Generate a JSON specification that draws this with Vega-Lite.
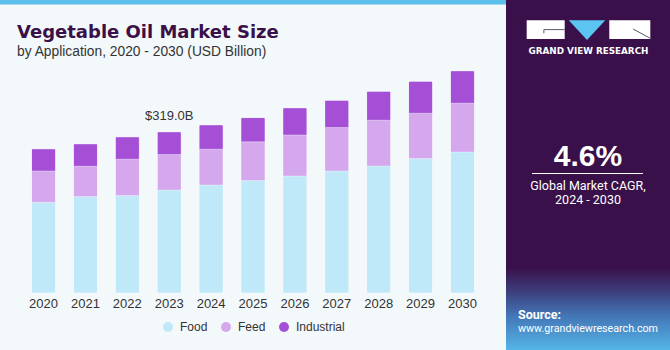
{
  "$schema": "https://vega.github.io/schema/vega-lite/v6.json",
  "background": "#f3f8fb",
  "padding": 0,
  "spacing": 0,
  "config": {
    "view": {"stroke": null},
    "font": "Liberation Sans"
  },
  "datasets": {
    "market": [
      {"year": "2020", "segment": "Food", "value": 179.7},
      {"year": "2020", "segment": "Feed", "value": 62.0},
      {"year": "2020", "segment": "Industrial", "value": 43.6},
      {"year": "2021", "segment": "Food", "value": 190.8},
      {"year": "2021", "segment": "Feed", "value": 60.2},
      {"year": "2021", "segment": "Industrial", "value": 44.2},
      {"year": "2022", "segment": "Food", "value": 192.8},
      {"year": "2022", "segment": "Feed", "value": 72.1},
      {"year": "2022", "segment": "Industrial", "value": 44.2},
      {"year": "2023", "segment": "Food", "value": 204.0},
      {"year": "2023", "segment": "Feed", "value": 70.0},
      {"year": "2023", "segment": "Industrial", "value": 45.0},
      {"year": "2024", "segment": "Food", "value": 214.0},
      {"year": "2024", "segment": "Feed", "value": 70.7},
      {"year": "2024", "segment": "Industrial", "value": 48.1},
      {"year": "2025", "segment": "Food", "value": 222.5},
      {"year": "2025", "segment": "Feed", "value": 76.7},
      {"year": "2025", "segment": "Industrial", "value": 48.1},
      {"year": "2026", "segment": "Food", "value": 231.8},
      {"year": "2026", "segment": "Feed", "value": 81.2},
      {"year": "2026", "segment": "Industrial", "value": 53.5},
      {"year": "2027", "segment": "Food", "value": 241.7},
      {"year": "2027", "segment": "Feed", "value": 85.8},
      {"year": "2027", "segment": "Industrial", "value": 54.3},
      {"year": "2028", "segment": "Food", "value": 251.6},
      {"year": "2028", "segment": "Feed", "value": 90.5},
      {"year": "2028", "segment": "Industrial", "value": 57.4},
      {"year": "2029", "segment": "Food", "value": 266.0},
      {"year": "2029", "segment": "Feed", "value": 90.0},
      {"year": "2029", "segment": "Industrial", "value": 63.4},
      {"year": "2030", "segment": "Food", "value": 279.3},
      {"year": "2030", "segment": "Feed", "value": 96.5},
      {"year": "2030", "segment": "Industrial", "value": 64.0}
    ],
    "callout": [{"year": "2023", "total": 319.0, "label": "$319.0B"}]
  },
  "resolve": {"legend": {"color": "independent"}, "scale": {"x": "independent", "y": "independent", "color": "independent"}},
  "hconcat": [
    {
      "width": 506,
      "height": 293,
      "title": {
        "text": "Vegetable Oil Market Size",
        "subtitle": "by Application, 2020 - 2030 (USD Billion)",
        "anchor": "start",
        "frame": "group",
        "orient": "top",
        "offset": -59,
        "dx": 17,
        "font": "DejaVu Sans",
        "fontSize": 18,
        "fontWeight": "bold",
        "color": "#3b1048",
        "subtitleFont": "Liberation Sans",
        "subtitleFontSize": 13.8,
        "subtitleColor": "#333333",
        "subtitlePadding": 3
      },
      "layer": [
        {
          "data": {"values": [{"band": "top"}]},
          "mark": {"type": "rect", "color": "#5bc0eb"},
          "encoding": {
            "y": {"datum": 571, "type": "quantitative", "scale": {"domain": [0, 580], "nice": false}, "axis": null},
            "y2": {"datum": 580}
          }
        },
        {
          "data": {"name": "market"},
          "mark": {"type": "bar", "cornerRadius": 1.5, "stroke": "#ffffff", "strokeWidth": 0.6, "strokeOpacity": 0.45},
          "encoding": {
            "x": {
              "field": "year", "type": "ordinal",
              "scale": {"paddingInner": 0.427, "paddingOuter": 0.753},
              "axis": {"title": null, "domain": false, "ticks": false, "labelAngle": 0, "labelFontSize": 13, "labelColor": "#333333", "labelPadding": 4}
            },
            "y": {"field": "value", "type": "quantitative", "stack": "zero", "scale": {"domain": [0, 580], "nice": false}, "axis": null},
            "color": {
              "field": "segment", "type": "nominal",
              "sort": ["Food", "Feed", "Industrial"],
              "scale": {"domain": ["Food", "Feed", "Industrial"], "range": ["#bfe9f8", "#d5a7ec", "#a44fd6"]},
              "legend": {
                "title": null, "orient": "none", "legendX": 162, "legendY": 321, "direction": "horizontal", "padding": 0,
                "symbolType": "circle", "symbolSize": 100, "symbolStrokeWidth": 0,
                "labelFontSize": 12, "labelColor": "#333333", "columnPadding": 12, "labelOffset": 6
              }
            },
            "order": {"field": "value", "type": "quantitative", "sort": "descending"}
          }
        },
        {
          "data": {"name": "callout"},
          "mark": {"type": "text", "fontSize": 13, "color": "#333333", "dy": -12, "baseline": "alphabetic"},
          "encoding": {
            "x": {"field": "year", "type": "ordinal"},
            "y": {"field": "total", "type": "quantitative"},
            "text": {"field": "label"}
          }
        }
      ]
    },
    {
      "width": 164,
      "height": 350,
      "view": {"fill": "#391049", "stroke": null},
      "layer": [
        {
          "data": {"values": [{"part": "footer"}]},
          "mark": {
            "type": "rect",
            "fill": {
              "gradient": "linear", "x1": 0, "y1": 0, "x2": 0, "y2": 1,
              "stops": [
                {"offset": 0, "color": "#391049"},
                {"offset": 0.25, "color": "#391049"},
                {"offset": 0.45, "color": "#3c3a78"},
                {"offset": 0.7, "color": "#4478b8"},
                {"offset": 1, "color": "#55b5e8"}
              ]
            }
          },
          "encoding": {
            "x": {"datum": 0, "type": "quantitative", "scale": {"domain": [0, 164], "nice": false, "zero": false}, "axis": null},
            "x2": {"datum": 164},
            "y": {"datum": 240, "type": "quantitative", "scale": {"domain": [0, 350], "reverse": true, "nice": false, "zero": false}, "axis": null},
            "y2": {"datum": 350}
          }
        },
        {
          "data": {"values": [{"part": "logo blocks"}]},
          "mark": {"type": "point", "filled": true, "fill": "#ffffff", "opacity": 1, "strokeWidth": 0, "size": 15376,
            "shape": "M-0.997,-0.151H-0.384V0.151H-0.997Z M0.335,-0.151H0.997V0.151H0.335Z"},
          "encoding": {"x": {"datum": 82.5, "type": "quantitative"}, "y": {"datum": 29.6, "type": "quantitative"}}
        },
        {
          "data": {"values": [{"part": "logo lines"}]},
          "mark": {"type": "point", "filled": false, "stroke": "#5a5a6a", "strokeWidth": 1, "opacity": 1, "size": 15376,
            "shape": "M-0.384,0H-0.72V0.06 M0.718,-0.01L0.997,0.14"},
          "encoding": {"x": {"datum": 82.5, "type": "quantitative"}, "y": {"datum": 29.6, "type": "quantitative"}}
        },
        {
          "data": {"values": [{"part": "logo triangle"}]},
          "mark": {"type": "point", "filled": true, "fill": "#5bc4f1", "opacity": 1, "strokeWidth": 0, "size": 15376,
            "shape": "M-0.319,-0.151L0.271,-0.151L-0.024,0.167Z"},
          "encoding": {"x": {"datum": 82.5, "type": "quantitative"}, "y": {"datum": 29.6, "type": "quantitative"}}
        },
        {
          "data": {"values": [{"text": "GRAND VIEW RESEARCH"}]},
          "mark": {"type": "text", "font": "DejaVu Sans", "fontSize": 8.8, "fontWeight": "bold", "color": "#ffffff", "align": "center", "baseline": "alphabetic"},
          "encoding": {"x": {"datum": 82.5, "type": "quantitative"}, "y": {"datum": 53.8, "type": "quantitative"}, "text": {"field": "text"}}
        },
        {
          "data": {"values": [{"text": "4.6%"}]},
          "mark": {"type": "text", "fontSize": 30, "fontWeight": "bold", "color": "#ffffff", "align": "center", "baseline": "alphabetic"},
          "encoding": {"x": {"datum": 82, "type": "quantitative"}, "y": {"datum": 166, "type": "quantitative"}, "text": {"field": "text"}}
        },
        {
          "data": {"values": [{"part": "divider"}]},
          "mark": {"type": "rule", "color": "#ffffff", "strokeWidth": 1},
          "encoding": {"x": {"datum": 26, "type": "quantitative"}, "x2": {"datum": 137}, "y": {"datum": 173.5, "type": "quantitative"}}
        },
        {
          "data": {"values": [{"text": "Global Market CAGR,", "line": 1}, {"text": "2024 - 2030", "line": 2}]},
          "transform": [{"filter": "datum.line == 1"}],
          "mark": {"type": "text", "font": "Roboto", "fontSize": 12.5, "color": "#ffffff", "align": "center", "baseline": "alphabetic"},
          "encoding": {"x": {"datum": 82, "type": "quantitative"}, "y": {"datum": 189.5, "type": "quantitative"}, "text": {"field": "text"}}
        },
        {
          "data": {"values": [{"text": "Global Market CAGR,", "line": 1}, {"text": "2024 - 2030", "line": 2}]},
          "transform": [{"filter": "datum.line == 2"}],
          "mark": {"type": "text", "font": "Roboto", "fontSize": 12.5, "color": "#ffffff", "align": "center", "baseline": "alphabetic"},
          "encoding": {"x": {"datum": 82, "type": "quantitative"}, "y": {"datum": 204, "type": "quantitative"}, "text": {"field": "text"}}
        },
        {
          "data": {"values": [{"text": "Source:"}]},
          "mark": {"type": "text", "font": "Roboto", "fontSize": 12.5, "fontWeight": "bold", "color": "#ffffff", "align": "left", "baseline": "alphabetic"},
          "encoding": {"x": {"datum": 12, "type": "quantitative"}, "y": {"datum": 319, "type": "quantitative"}, "text": {"field": "text"}}
        },
        {
          "data": {"values": [{"text": "www.grandviewresearch.com"}]},
          "mark": {"type": "text", "font": "Roboto", "fontSize": 10.7, "color": "#ffffff", "align": "left", "baseline": "alphabetic"},
          "encoding": {"x": {"datum": 12, "type": "quantitative"}, "y": {"datum": 331.5, "type": "quantitative"}, "text": {"field": "text"}}
        }
      ]
    }
  ]
}
